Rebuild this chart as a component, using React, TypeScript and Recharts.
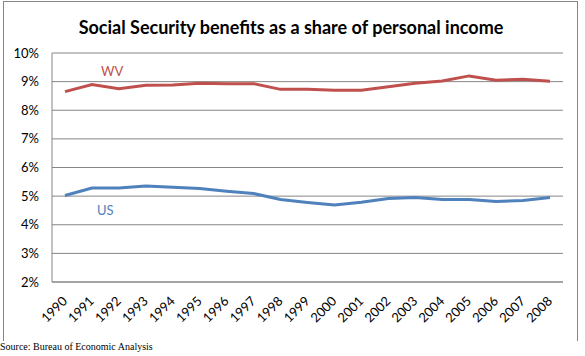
import React from "react";
import { LineChart, Line, XAxis, YAxis, CartesianGrid } from "recharts";

const years = ["1990","1991","1992","1993","1994","1995","1996","1997","1998","1999","2000","2001","2002","2003","2004","2005","2006","2007","2008"];
const wv = [8.65, 8.9, 8.75, 8.87, 8.88, 8.94, 8.93, 8.93, 8.73, 8.73, 8.7, 8.7, 8.82, 8.94, 9.02, 9.2, 9.05, 9.08, 9.01];
const us = [5.02, 5.28, 5.28, 5.35, 5.31, 5.27, 5.17, 5.09, 4.88, 4.78, 4.69, 4.79, 4.92, 4.95, 4.88, 4.88, 4.81, 4.85, 4.95];
const yTicks = [2, 3, 4, 5, 6, 7, 8, 9, 10];

const title = "Social Security benefits as a share of personal income";
const source = "Source: Bureau of Economic Analysis";

const data = years.map((y, i) => ({ year: y, WV: wv[i], US: us[i] }));

const FONT = "Lato, 'Open Sans', sans-serif";

const XTick = (props: any) => {
  const { x, y, payload } = props;
  const ax = x + 3;
  const ay = y + 12;
  return (
    <text
      x={ax}
      y={ay}
      textAnchor="end"
      fontFamily={FONT}
      fontSize={13}
      fill="#000"
      transform={`rotate(-45, ${ax}, ${ay})`}
    >
      {payload.value}
    </text>
  );
};

export default function App() {
  return (
    <div style={{ position: "absolute", left: 0, top: 0, width: 585, height: 356, background: "#fff" }}>
      <div
        style={{
          position: "absolute",
          left: 3,
          top: 1,
          width: 575,
          height: 340,
          borderLeft: "1px solid #868686",
          borderTop: "1px solid #868686",
          borderRight: "1px solid #868686",
          boxSizing: "border-box",
        }}
      />
      <div
        style={{
          position: "absolute",
          left: 0,
          top: 16,
          width: 582,
          textAlign: "center",
          fontFamily: FONT,
          fontWeight: 700,
          fontSize: 18,
          color: "#000",
        }}
      >
        {title}
      </div>
      <div style={{ position: "absolute", left: 0, top: 0 }}>
        <LineChart
          width={585}
          height={356}
          data={data}
          margin={{ top: 53, right: 22, left: 12, bottom: 24 }}
        >
          <CartesianGrid horizontal vertical={false} stroke="#868686" strokeWidth={1} />
          <XAxis
            dataKey="year"
            interval={0}
            height={50}
            padding={{ left: 13, right: 13 }}
            axisLine={{ stroke: "#868686" }}
            tickLine={false}
            tick={<XTick />}
          />
          <YAxis
            domain={[2, 10]}
            ticks={yTicks}
            width={40}
            axisLine={{ stroke: "#868686" }}
            tickLine={false}
            tickSize={0}
            tickMargin={13}
            tickFormatter={(v: number) => `${v}%`}
            tick={{ fontFamily: FONT, fontSize: 13, fill: "#000" }}
          />
          <Line type="linear" dataKey="WV" stroke="#C0504D" strokeWidth={3} dot={false} isAnimationActive={false} />
          <Line type="linear" dataKey="US" stroke="#4F81BD" strokeWidth={3} dot={false} isAnimationActive={false} />
        </LineChart>
      </div>
      <div style={{ position: "absolute", left: 101, top: 63, fontFamily: FONT, fontSize: 13, color: "#C0504D" }}>WV</div>
      <div style={{ position: "absolute", left: 97, top: 202, fontFamily: FONT, fontSize: 13, color: "#4F81BD" }}>US</div>
      <div
        style={{
          position: "absolute",
          left: 0,
          top: 341,
          fontFamily: "'Liberation Serif', 'Times New Roman', serif",
          fontSize: 10,
          color: "#000",
          whiteSpace: "nowrap",
        }}
      >
        {source}
      </div>
    </div>
  );
}
